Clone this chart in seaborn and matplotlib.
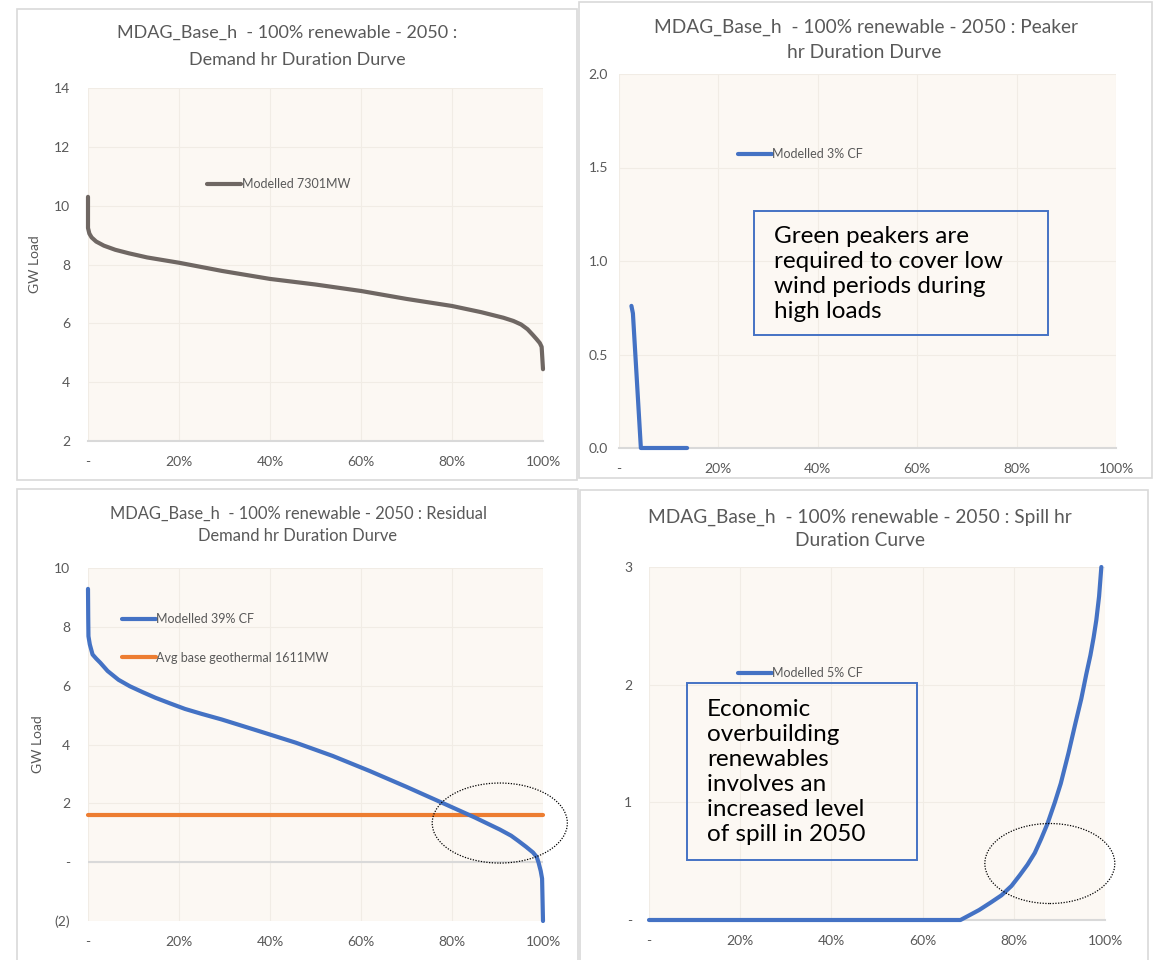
import numpy as np
import pandas as pd
import matplotlib
matplotlib.use("Agg")
import matplotlib.pyplot as plt
import seaborn as sns
from matplotlib.patches import Rectangle, Ellipse
from matplotlib.ticker import FixedLocator, FixedFormatter

# ---- data: share of hours (0-1) against GW ----
demand_share = [0.0, 0.0, 0.003, 0.008, 0.018, 0.035, 0.06, 0.09, 0.13, 0.20,
                0.295, 0.40, 0.50, 0.60, 0.70, 0.80, 0.864, 0.913, 0.935, 0.952,
                0.966, 0.978, 0.986, 0.993, 0.997, 1.0]
demand_gw = [10.3, 9.24, 9.05, 8.92, 8.78, 8.64, 8.50, 8.38, 8.24, 8.06,
             7.78, 7.51, 7.32, 7.10, 6.83, 6.59, 6.38, 6.19, 6.08, 5.96,
             5.80, 5.60, 5.46, 5.33, 5.20, 4.44]

peaker_share = [0.025, 0.028, 0.044, 0.137]
peaker_gw = [0.76, 0.72, 0.0, 0.0]

residual_share = [0.0, 0.0005, 0.001, 0.004, 0.01, 0.018, 0.027, 0.043, 0.067,
                  0.092, 0.12, 0.148, 0.18, 0.213, 0.25, 0.294, 0.375, 0.457,
                  0.538, 0.619, 0.70, 0.781, 0.85, 0.905, 0.93, 0.946, 0.963,
                  0.978, 0.986, 0.99, 0.995, 0.998, 1.0]
residual_gw = [9.29, 8.3, 7.68, 7.40, 7.06, 6.92, 6.78, 6.50, 6.20,
               5.98, 5.78, 5.59, 5.40, 5.21, 5.04, 4.85, 4.46, 4.06,
               3.61, 3.10, 2.56, 2.0, 1.52, 1.11, 0.90, 0.72, 0.52,
               0.33, 0.18, 0.0, -0.30, -0.56, -2.0]

geothermal_share = [0.0, 1.0]
geothermal_gw = [1.611, 1.611]

spill_share = [0.0, 0.683, 0.70, 0.724, 0.75, 0.773, 0.795, 0.813, 0.83, 0.846,
               0.86, 0.874, 0.89, 0.903, 0.92, 0.935, 0.948, 0.959, 0.968,
               0.975, 0.981, 0.987, 0.992]
spill_gw = [0.0, 0.0, 0.035, 0.085, 0.15, 0.21, 0.29, 0.38, 0.47, 0.57,
            0.69, 0.82, 1.0, 1.16, 1.42, 1.67, 1.88, 2.09, 2.25,
            2.40, 2.55, 2.75, 3.0]

# ---- labels ----
x_ticks = [0.0, 0.2, 0.4, 0.6, 0.8, 1.0]
x_tick_labels = ["-", "20%", "40%", "60%", "80%", "100%"]

demand_y_ticks = [2, 4, 6, 8, 10, 12, 14]
demand_y_labels = ["2", "4", "6", "8", "10", "12", "14"]
peaker_y_ticks = [0.0, 0.5, 1.0, 1.5, 2.0]
peaker_y_labels = ["0.0", "0.5", "1.0", "1.5", "2.0"]
residual_y_ticks = [-2, 0, 2, 4, 6, 8, 10]
residual_y_labels = ["(2)", "-", "2", "4", "6", "8", "10"]
spill_y_ticks = [0, 1, 2, 3]
spill_y_labels = ["-", "1", "2", "3"]

title_lines = [
    ("MDAG_Base_h  - 100% renewable - 2050 :", "Demand hr Duration Durve"),
    ("MDAG_Base_h  - 100% renewable - 2050 : Peaker", "hr Duration Durve"),
    ("MDAG_Base_h  - 100% renewable - 2050 : Residual", "Demand hr Duration Durve"),
    ("MDAG_Base_h  - 100% renewable - 2050 : Spill hr", "Duration Curve"),
]
demand_label = "Modelled 7301MW"
peaker_label = "Modelled 3% CF"
residual_label = "Modelled 39% CF"
geothermal_label = "Avg base geothermal 1611MW"
spill_label = "Modelled 5% CF"
y_label = "GW Load"
peaker_note = "Green peakers are\nrequired to cover low\nwind periods during\nhigh loads"
spill_note = "Economic\noverbuilding\nrenewables\ninvolves an\nincreased level\nof spill in 2050"

# ---- style ----
sns.set_theme(style="white")
plt.rcParams["font.family"] = ["Lato", "DejaVu Sans"]

TEXT = "#595959"
CREAM = "#FCF8F3"
GRID = "#F1ECE5"
AXIS = "#D9D9D9"
BLUE = "#4472C4"
ORANGE = "#ED7D31"
BROWN = "#6F6763"
LW = 3.0

W, H = 1160, 960
fig = plt.figure(figsize=(W / 100, H / 100), dpi=100)
fig.patch.set_facecolor("white")


def px_rect(x0, y0, x1, y1):
    return [x0 / W, 1 - y1 / H, (x1 - x0) / W, (y1 - y0) / H]


# chart-area frames
for (x0, y0, x1, y1) in [(17, 9, 577, 480), (579, 2, 1152, 478),
                         (17, 489, 578, 975), (580, 490, 1148, 975)]:
    fig.patches.append(Rectangle((x0 / W, 1 - y1 / H), (x1 - x0) / W, (y1 - y0) / H,
                                 transform=fig.transFigure, facecolor="none",
                                 edgecolor=AXIS, linewidth=1.2, zorder=-5))


def style_axes(ax, ylim, yticks, ylabels, ypad, base_spine=True):
    ax.set_facecolor(CREAM)
    ax.set_xlim(0, 1)
    ax.set_ylim(*ylim)
    ax.xaxis.set_major_locator(FixedLocator(x_ticks))
    ax.xaxis.set_major_formatter(FixedFormatter(x_tick_labels))
    ax.yaxis.set_major_locator(FixedLocator(yticks))
    ax.yaxis.set_major_formatter(FixedFormatter(ylabels))
    ax.tick_params(axis="both", length=0, labelsize=10, labelcolor=TEXT)
    ax.tick_params(axis="x", pad=11)
    ax.tick_params(axis="y", pad=ypad)
    ax.grid(True, color=GRID, linewidth=0.8)
    ax.set_axisbelow(True)
    for s in ["top", "right", "left"]:
        ax.spines[s].set_visible(False)
    ax.spines["bottom"].set_visible(base_spine)
    ax.spines["bottom"].set_color(AXIS)
    ax.spines["bottom"].set_linewidth(1.5)
    ax.set_xlabel("")
    ax.set_ylabel("")
    for ln in ax.lines:
        ln.set_clip_on(False)
        ln.set_solid_joinstyle("round")
        ln.set_zorder(ln.get_zorder() + 2)


def place_legend(ax, x, y, spacing=0.5):
    ax.legend(loc="center left", bbox_to_anchor=(x, y), frameon=False,
              handlelength=2.7, handletextpad=0.05, borderpad=0, borderaxespad=0,
              labelspacing=spacing, fontsize=9, labelcolor=TEXT)


def draw_series(ax, share, gw, color, label, z=2):
    sns.lineplot(data=pd.DataFrame({"share": share, "gw": gw}), x="share", y="gw",
                 ax=ax, color=color, linewidth=LW, label=label, sort=False,
                 estimator=None, zorder=z)


NOTE_SIZE = 17.5

# ---- top left: demand ----
ax1 = fig.add_axes(px_rect(88, 88, 543, 441))
draw_series(ax1, demand_share, demand_gw, BROWN, demand_label)
style_axes(ax1, (2, 14), demand_y_ticks, demand_y_labels, 13)
ax1.set_ylabel(y_label, color=TEXT, fontsize=10, labelpad=9)
place_legend(ax1, 0.262, 0.728)

# ---- top right: peaker ----
ax2 = fig.add_axes(px_rect(619, 74, 1116, 448))
draw_series(ax2, peaker_share, peaker_gw, BLUE, peaker_label)
style_axes(ax2, (0, 2), peaker_y_ticks, peaker_y_labels, 8)
place_legend(ax2, 0.239, 0.786)
ax2.add_patch(Rectangle((0.2716, 0.302), 0.5914, 0.332, transform=ax2.transAxes,
                        facecolor="none", edgecolor=BLUE, linewidth=1.4, zorder=5))
ax2.text(0.312, 0.594, peaker_note, transform=ax2.transAxes, ha="left", va="top",
         fontsize=NOTE_SIZE, color="black", linespacing=1.24, zorder=6)

# ---- bottom left: residual demand ----
ax3 = fig.add_axes(px_rect(88, 568, 543, 921))
draw_series(ax3, residual_share, residual_gw, BLUE, residual_label, z=4)
draw_series(ax3, geothermal_share, geothermal_gw, ORANGE, geothermal_label, z=3)
style_axes(ax3, (-2, 10), residual_y_ticks, residual_y_labels, 13, base_spine=False)
ax3.axhline(0, color=AXIS, linewidth=1.5, zorder=2)
ax3.set_ylabel(y_label, color=TEXT, fontsize=10, labelpad=7)
place_legend(ax3, 0.075, 0.80, spacing=2.1)
ax3.add_patch(Ellipse((0.905, 1.33), 0.297, 2.72, transform=ax3.transData,
                      facecolor="none", edgecolor="black", linestyle=(0, (1, 1.2)),
                      linewidth=0.9, clip_on=False, zorder=8))

# ---- bottom right: spill ----
ax4 = fig.add_axes(px_rect(649, 567, 1105, 920))
draw_series(ax4, spill_share, spill_gw, BLUE, spill_label)
style_axes(ax4, (0, 3), spill_y_ticks, spill_y_labels, 12)
place_legend(ax4, 0.195, 0.70)
ax4.add_patch(Rectangle((0.0833, 0.17), 0.505, 0.501, transform=ax4.transAxes,
                        facecolor="none", edgecolor=BLUE, linewidth=1.4, zorder=5))
ax4.text(0.127, 0.627, spill_note, transform=ax4.transAxes, ha="left", va="top",
         fontsize=NOTE_SIZE, color="black", linespacing=1.24, zorder=6)
ax4.add_patch(Ellipse((0.879, 0.48), 0.285, 0.68, transform=ax4.transData,
                      facecolor="none", edgecolor="black", linestyle=(0, (1, 1.2)),
                      linewidth=0.9, clip_on=False, zorder=8))

# ---- titles, one text per line ----
title_pos = [((287, 33), (297, 60), 13.0),
             ((866, 27), (864, 53), 13.8),
             ((298, 514), (297, 536), 11.9),
             ((860, 517), (860, 541), 13.8)]
for (l1, l2), ((x1, y1), (x2, y2), fs) in zip(title_lines, title_pos):
    fig.text(x1 / W, 1 - y1 / H, l1, ha="center", va="center", fontsize=fs, color=TEXT)
    fig.text(x2 / W, 1 - y2 / H, l2, ha="center", va="center", fontsize=fs, color=TEXT)

fig.savefig("out.png", dpi=100, facecolor="white")
